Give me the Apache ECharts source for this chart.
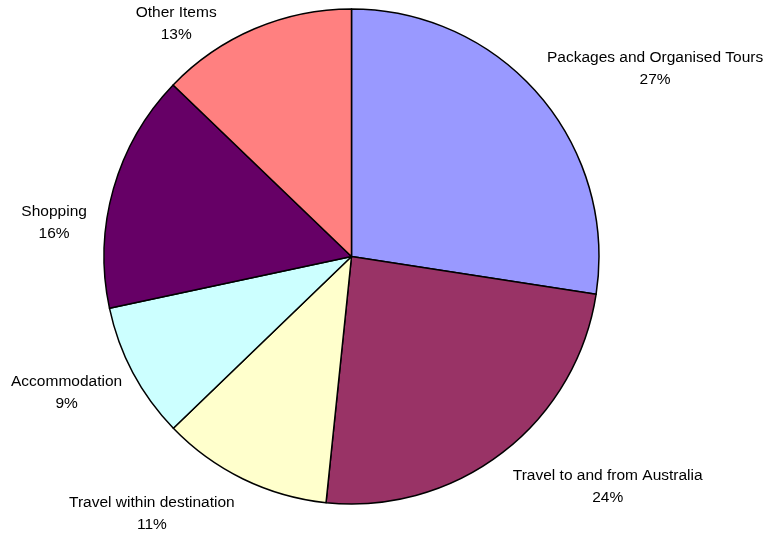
<!DOCTYPE html>
<html>
<head>
<meta charset="utf-8">
<script src="https://cdn.jsdelivr.net/npm/echarts@6/dist/echarts.min.js"></script>
<style>
  html, body { margin: 0; padding: 0; background: #ffffff; }
  #chart { width: 771px; height: 536px; }
</style>
</head>
<body>
<div id="chart"></div>
<script>
// ---- data ----
const categories = [
  'Packages and Organised Tours',
  'Travel to and from Australia',
  'Travel within destination',
  'Accommodation',
  'Shopping',
  'Other Items'
];
const shares = [27.44, 24.2, 11.15, 8.86, 15.54, 12.81];
const sliceColors = ['#9999FF', '#993366', '#FFFFCC', '#CCFFFF', '#660066', '#FF8080'];

// ---- layout ----
const CX = 351.5, CY = 256.5, R = 247.5;
const GAP = 10;
// per-label nudges (px) applied after the angle-based placement
const labelNudge = [[0, -20], [4, 26], [-4, 26], [-2, 15], [-17, 36.5], [-34, 4.5]];

const total = shares.reduce((a, b) => a + b, 0);
const midAngles = [];
let acc = 0;
shares.forEach(v => {
  midAngles.push((acc + v / 2) / total * 2 * Math.PI);
  acc += v;
});

const chart = echarts.init(document.getElementById('chart'), null, { renderer: 'canvas' });
chart.setOption({
  animation: false,
  backgroundColor: '#ffffff',
  series: [{
    type: 'pie',
    center: [CX, CY],
    radius: [0, R],
    startAngle: 90,
    clockwise: true,
    avoidLabelOverlap: false,
    data: categories.map((c, i) => ({
      name: c,
      value: shares[i],
      itemStyle: { color: sliceColors[i] }
    })),
    itemStyle: { borderColor: '#000000', borderWidth: 1.5 },
    emphasis: { disabled: true },
    label: {
      show: true,
      position: 'outside',
      fontFamily: '"Liberation Sans", Arial, sans-serif',
      fontSize: 15.5,
      lineHeight: 22,
      color: '#000000',
      align: 'center',
      formatter: p => p.name + '\n' + Math.round(p.percent) + '%'
    },
    labelLine: { show: false },
    labelLayout: function (params) {
      const i = params.dataIndex;
      const a = midAngles[i];
      const sx = Math.sin(a), sy = -Math.cos(a);
      const w = params.labelRect.width;
      const ex = CX + (R + GAP) * sx;
      const ey = CY + (R + GAP) * sy;
      return {
        x: ex + (sx >= 0 ? 1 : -1) * w / 2 + labelNudge[i][0],
        y: ey + labelNudge[i][1],
        align: 'center',
        verticalAlign: 'middle'
      };
    }
  }]
});
</script>
</body>
</html>
